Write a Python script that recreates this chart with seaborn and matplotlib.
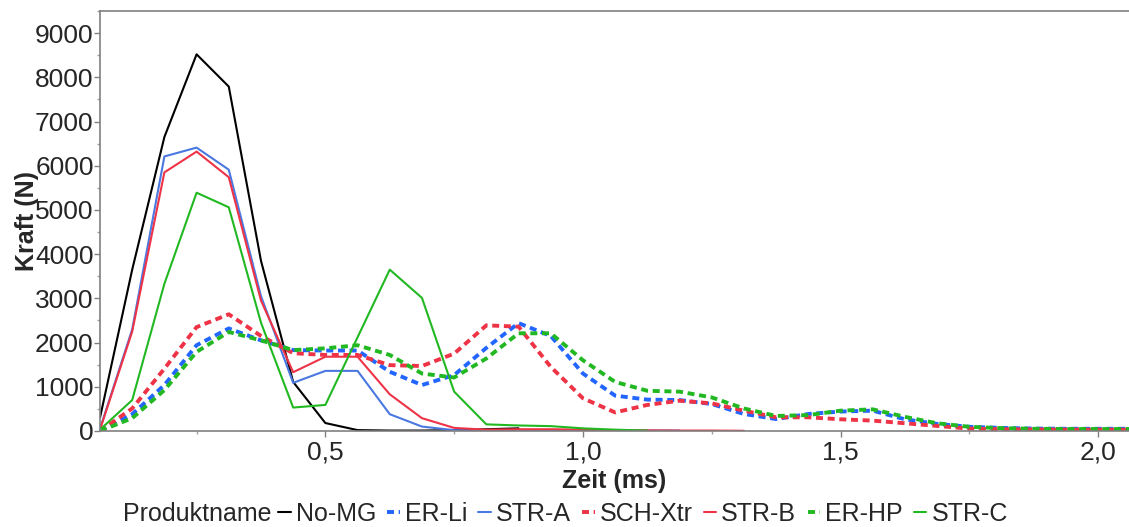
import matplotlib
matplotlib.use("Agg")
import matplotlib.pyplot as plt
import seaborn as sns
from matplotlib.ticker import MultipleLocator, FuncFormatter

# sampling times (ms)
zeit = [0.0625, 0.125, 0.1875, 0.25, 0.3125, 0.375, 0.4375, 0.5, 0.5625, 0.625,
        0.6875, 0.75, 0.8125, 0.875, 0.9375, 1.0, 1.0625, 1.125, 1.1875, 1.25,
        1.3125, 1.375, 1.4375, 1.5, 1.5625, 1.625, 1.6875, 1.75, 1.8125, 1.875,
        1.9375, 2.0, 2.0625]

# force (N) per product
no_mg = [300, 3650, 6650, 8520, 7790, 3850, 1110, 180, 20, 10, 10, 20, 40, 60]
er_li = [0, 380, 1040, 1940, 2320, 2050, 1830, 1820, 1820, 1340, 1040, 1265, 1880,
         2440, 2150, 1300, 800, 710, 700, 610, 385, 270, 385, 440, 460, 265, 160,
         95, 70, 55, 50, 50, 50]
str_a = [50, 2300, 6210, 6410, 5910, 3050, 1090, 1360, 1360, 380, 100, 20, 10, 10,
         10, 10, 10, 10, 10]
sch_xtr = [0, 510, 1410, 2350, 2640, 2150, 1760, 1720, 1720, 1490, 1470, 1750, 2390,
           2360, 1450, 740, 420, 590, 685, 625, 460, 310, 310, 265, 235, 175, 115,
           55, 40, 35, 30, 30, 30]
str_b = [30, 2250, 5850, 6320, 5740, 2950, 1330, 1680, 1680, 830, 290, 70, 30, 40,
         40, 30, 20, 15, 10, 10, 5]
er_hp = [0, 290, 925, 1790, 2240, 2050, 1830, 1870, 1940, 1720, 1300, 1210, 1640,
         2210, 2210, 1600, 1110, 910, 890, 760, 510, 340, 360, 460, 490, 320, 175,
         95, 65, 50, 45, 45, 45]
str_c = [30, 700, 3330, 5390, 5060, 2450, 530, 590, 2120, 3650, 3010, 890, 150, 125,
         110, 60, 30, 10]

produkte = ["No-MG", "ER-Li", "STR-A", "SCH-Xtr", "STR-B", "ER-HP", "STR-C"]
werte = [no_mg, er_li, str_a, sch_xtr, str_b, er_hp, str_c]
farben = ["#000000", "#2266ff", "#4a78e0", "#ee3347", "#ee3347", "#22b822", "#22b822"]
gestrichelt = [False, True, False, True, False, True, False]

sns.set_theme(style="white")
plt.rcParams["font.family"] = ["Liberation Sans", "DejaVu Sans"]

fig = plt.figure(figsize=(11.29, 5.27), dpi=100)
ax = fig.add_axes([100 / 1129, 1 - 431 / 527, 1 - 100 / 1129, 420 / 527])

handles = []
for name, y, c, d in zip(produkte, werte, farben, gestrichelt):
    if d:
        sns.lineplot(x=zeit[:len(y)], y=y, ax=ax, color=c, linewidth=2.8,
                     estimator=None, label=name)
        ln = ax.get_lines()[-1]
        ln.set_dashes((1.8, 1.2))
    else:
        sns.lineplot(x=zeit[:len(y)], y=y, ax=ax, color=c, linewidth=1.5,
                     estimator=None, label=name)
        ln = ax.get_lines()[-1]
    handles.append(ln)

ax.get_legend().remove()
ax.set_xlim(0.0625, 2.06)
ax.set_ylim(0, 9500)

ax.xaxis.set_major_locator(MultipleLocator(0.5))
ax.xaxis.set_minor_locator(MultipleLocator(0.25))
ax.yaxis.set_major_locator(MultipleLocator(1000))
ax.yaxis.set_minor_locator(MultipleLocator(500))
ax.xaxis.set_major_formatter(FuncFormatter(lambda v, p: f"{v:.1f}".replace(".", ",")))
ax.tick_params(axis="both", which="major", length=4, width=1, color="#808080",
               labelsize=19, pad=0.5, bottom=True, left=True)
ax.tick_params(axis="both", which="minor", length=2, width=1, color="#a0a0a0",
               bottom=True, left=True)
ax.tick_params(axis="x", which="major", pad=3)

for s in ["left", "bottom", "top"]:
    ax.spines[s].set_color("#808080")
    ax.spines[s].set_linewidth(1.2)
ax.spines["right"].set_visible(False)

ax.set_xlabel("Zeit (ms)", fontsize=18, fontweight="bold", labelpad=3)
ax.set_ylabel("Kraft (N)", fontsize=18, fontweight="bold", labelpad=-3)

fig.text(123 / 1129, 1 - 514 / 527, "Produktname", fontsize=18, va="center", ha="left")
fig.legend(handles, produkte, loc="center left", bbox_to_anchor=(278 / 1129, 1 - 514 / 527),
           ncol=7, frameon=False, fontsize=18, handlelength=0.5, handletextpad=0.2,
           columnspacing=0.45, borderpad=0, borderaxespad=0)

fig.savefig("out.png", dpi=100)
